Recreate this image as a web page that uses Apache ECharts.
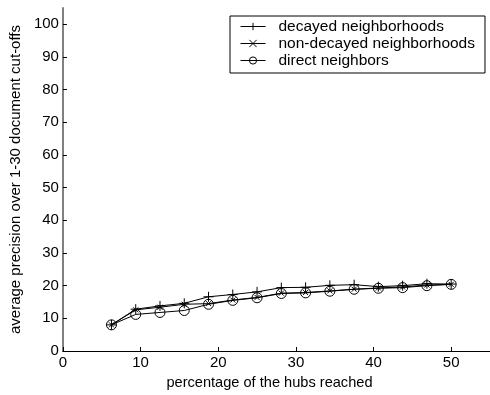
<!DOCTYPE html>
<html>
<head>
<meta charset="utf-8">
<script src="https://cdn.jsdelivr.net/npm/echarts@6/dist/echarts.min.js"></script>
<style>
  html, body { margin: 0; padding: 0; background: #fff; }
  #chart { width: 490px; height: 395px; }
</style>
</head>
<body>
<div id="chart"></div>
<script>
// Percentage of hubs reached (x positions of the measurements)
const hubsReached = [6.25, 9.375, 12.5, 15.625, 18.75, 21.875, 25, 28.125, 31.25, 34.375, 37.5, 40.625, 43.75, 46.875, 50];

// Average precision over 1-30 document cut-offs
const decayed    = [8, 12.8, 13.8, 14.6, 16.6, 17.3, 18.1, 19.4, 19.5, 20.1, 20.3, 19.7, 20.0, 20.6, 20.5];
const nonDecayed = [8, 12.6, 13.4, 14.3, 14.5, 15.6, 16.4, 17.7, 17.9, 18.4, 18.9, 19.3, 19.6, 20.2, 20.4];
const direct     = [8, 11.2, 11.8, 12.4, 14.3, 15.5, 16.3, 17.6, 17.8, 18.3, 18.9, 19.2, 19.4, 20.0, 20.4];

const seriesNames = ['decayed neighborhoods', 'non-decayed neighborhoods', 'direct neighbors'];

const FONT = 'Liberation Sans, Arial, sans-serif';
const plusPath  = 'path://M5,0L5,10M0,5L10,5';
const crossPath = 'path://M0,0L10,10M0,10L10,0';

const pairs = ys => hubsReached.map((x, i) => [x, ys[i]]);

const lineSeries = (name, data, symbol, size, fill) => ({
  name: name,
  type: 'line',
  data: pairs(data),
  symbol: symbol,
  symbolSize: size,
  showAllSymbol: true,
  animation: false,
  lineStyle: { color: '#000', width: 1 },
  itemStyle: { color: fill, borderColor: '#000', borderWidth: 1 },
  emphasis: { disabled: true }
});

const chart = echarts.init(document.getElementById('chart'), null, { renderer: 'canvas' });
chart.setOption({
  backgroundColor: '#fff',
  animation: false,
  textStyle: { fontFamily: FONT },
  grid: { left: 61, top: 8, width: 433, height: 343, containLabel: false },
  legend: {
    orient: 'vertical',
    left: 230,
    top: 16,
    data: seriesNames,
    itemWidth: 25,
    itemHeight: 9,
    itemGap: 0,
    padding: [2, 10, 4, 10],
    borderColor: '#000',
    borderWidth: 1,
    backgroundColor: '#fff',
    selectedMode: false,
    lineStyle: { width: 1, color: '#000' },
    itemStyle: { borderWidth: 1, borderColor: '#000' },
    textStyle: { fontFamily: FONT, fontSize: 15.5, color: '#000', padding: [0, 0, 0, 8], lineHeight: 17 }
  },
  xAxis: {
    type: 'value',
    min: 0,
    max: 55,
    interval: 10,
    name: 'percentage of the hubs reached',
    nameLocation: 'middle',
    nameGap: 24,
    nameTextStyle: { fontFamily: FONT, fontSize: 14.6, color: '#000', padding: [0, 14, 0, 0] },
    axisLine: { show: true, onZero: false, lineStyle: { color: '#000', width: 1 } },
    axisTick: { show: true, inside: true, length: 4, lineStyle: { color: '#000' } },
    axisLabel: { fontFamily: FONT, fontSize: 15, color: '#000', margin: 4, showMaxLabel: false },
    splitLine: { show: false }
  },
  yAxis: {
    type: 'value',
    min: 0,
    max: 105,
    interval: 10,
    name: 'average precision over 1-30 document cut-offs',
    nameLocation: 'middle',
    nameGap: 37,
    nameTextStyle: { fontFamily: FONT, fontSize: 15, color: '#000' },
    axisLine: { show: true, lineStyle: { color: '#808080', width: 2 } },
    axisTick: { show: true, inside: true, length: 4, lineStyle: { color: '#000' } },
    axisLabel: { fontFamily: FONT, fontSize: 15, color: '#000', margin: 4, showMaxLabel: false },
    splitLine: { show: false }
  },
  series: [
    lineSeries(seriesNames[0], decayed, plusPath, 10, '#000'),
    lineSeries(seriesNames[1], nonDecayed, crossPath, 5, '#000'),
    lineSeries(seriesNames[2], direct, 'circle', 10, 'rgba(0,0,0,0)')
  ]
});
</script>
</body>
</html>
